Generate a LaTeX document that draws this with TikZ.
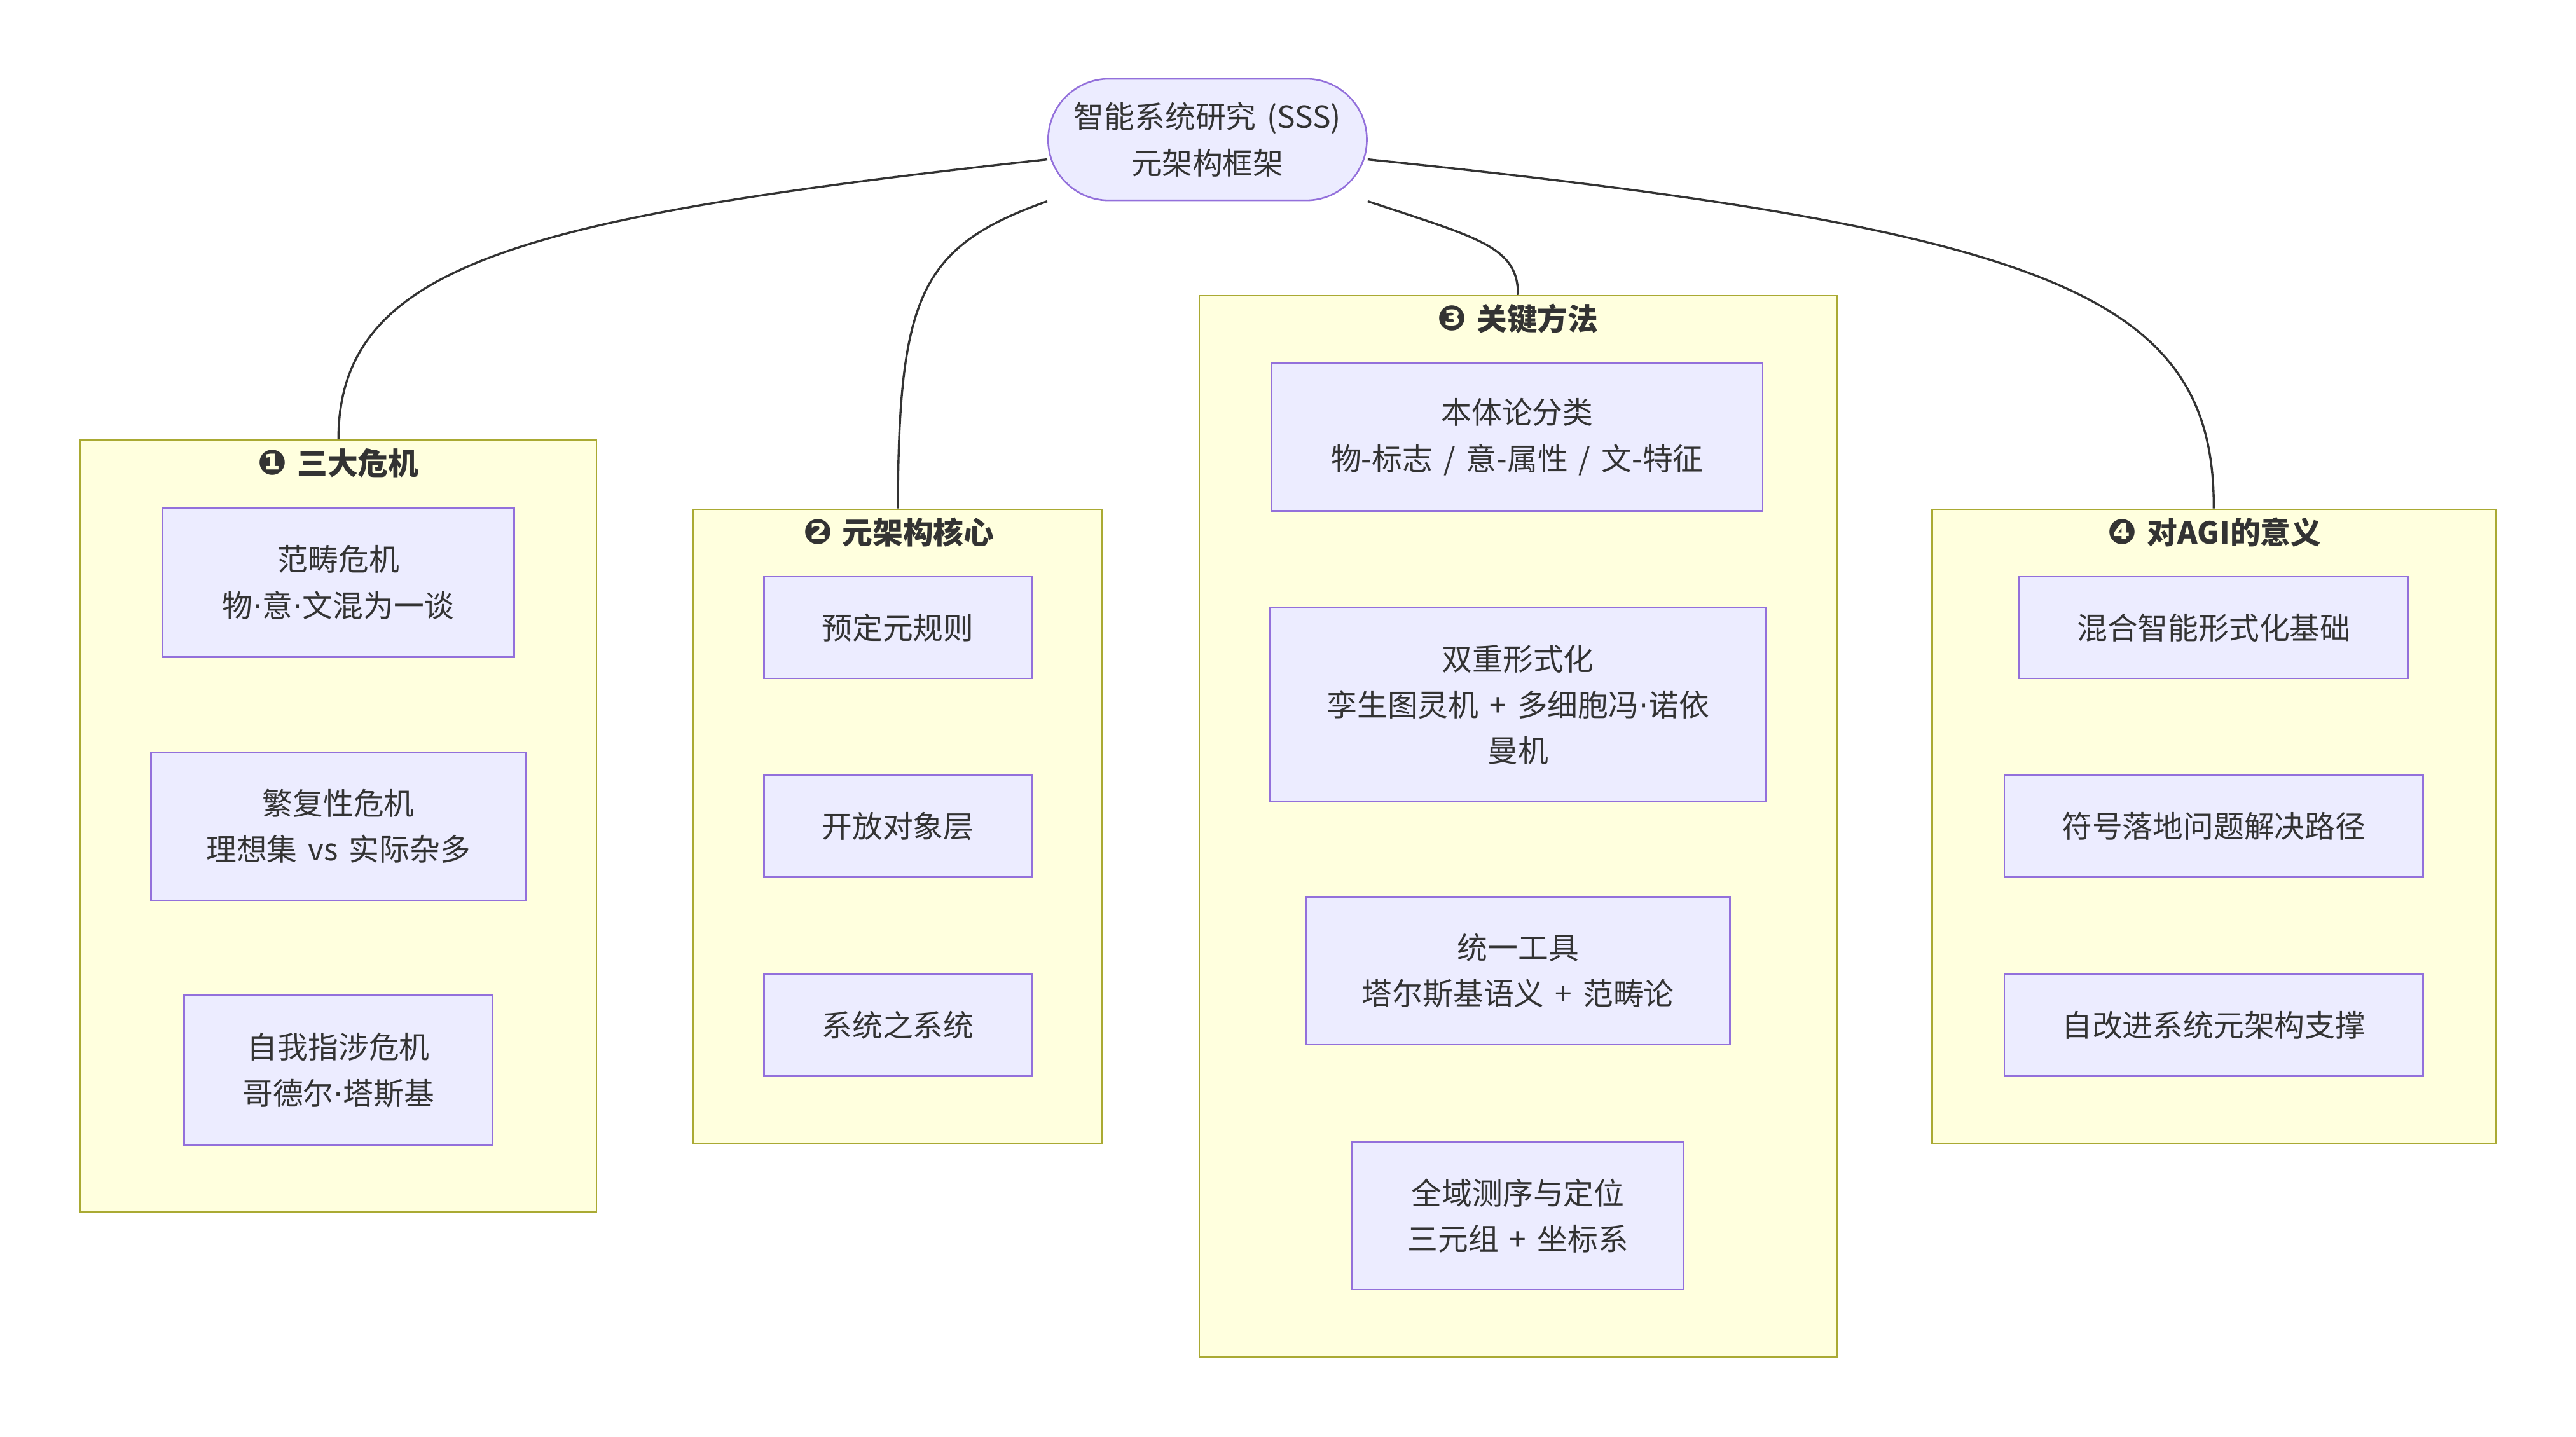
\documentclass[tikz,border=0pt]{standalone}
\usepackage{fontspec}
\setmainfont{Noto Sans CJK SC}
\newfontfamily\dv{DejaVu Sans}
\newcommand\mydot{{\dv ·}}
\newcommand\bul[1]{{\dv\fontsize{21}{22}\selectfont #1}}
\newcommand\widesp{\spaceskip=6.6pt\relax}
\usetikzlibrary{calc}
\definecolor{nodefill}{HTML}{ECECFF}
\definecolor{nodeline}{HTML}{9370DB}
\definecolor{clfill}{HTML}{FFFFDE}
\definecolor{clline}{HTML}{AAAA33}
\definecolor{txt}{HTML}{333333}
\begin{document}
\begin{tikzpicture}[x=1pt,y=-1pt,
 box/.style={draw=nodeline,fill=nodefill,line width=1pt,text=txt,align=center,inner sep=0pt,font=\fontsize{18.5}{28}\selectfont,execute at begin node=\widesp},
 cluster/.style={draw=clline,fill=clfill,line width=1pt,inner sep=0pt},
 ctitle/.style={text=txt,font=\fontsize{18.5}{22}\selectfont\bfseries,inner sep=0pt},
 link/.style={draw=txt,line width=1.3pt}]
\useasboundingbox[fill=white] (0,0) rectangle (1568,874.76);
% clusters
\node[cluster,minimum width=314pt,minimum height=470pt] (c1) at (206,503) {};
\node[cluster,minimum width=249pt,minimum height=386pt] (c2) at (546.5,503) {};
\node[cluster,minimum width=388pt,minimum height=646pt] (c3) at (924,503) {};
\node[cluster,minimum width=343pt,minimum height=386pt] (c4) at (1347.5,503) {};
\node[ctitle] (t1) at (206,282) {\bul{❶}\hspace{6pt}三大危机};
\node[ctitle] (t2) at (547,324) {\bul{❷}\hspace{6pt}元架构核心};
\node[ctitle] (t3) at (924,194) {\bul{❸}\hspace{6pt}关键方法};
\node[ctitle] (t4) at (1348,324) {\bul{❹}\hspace{6pt}对AGI的意义};
% root
\node[box,rounded corners=37pt,minimum width=194pt,minimum height=74pt] (root) at (735,85) {智能系统研究 (SSS)\\元架构框架};
% edges
\draw[link] ($(root.west)+(0,12)$) .. controls (320,132) and (206,160) .. (c1.north);
\draw[link] (root.south west) .. controls (560,150) and (547,180) .. (c2.north);
\draw[link] (root.south east) .. controls (900,145) and (924,150) .. (c3.north);
\draw[link] ($(root.east)+(0,12)$) .. controls (1250,140) and (1348,180) .. (c4.north);
% cluster 1
\node[box,minimum width=214pt,minimum height=91pt] (n1) at (206,354.5) {范畴危机\\物\mydot 意\mydot 文混为一谈};
\node[box,minimum width=228pt,minimum height=90pt] (n2) at (206,503) {繁复性危机\\理想集 vs 实际杂多};
\node[box,minimum width=188pt,minimum height=91pt] (n3) at (206,651.5) {自我指涉危机\\哥德尔\mydot 塔斯基};
% cluster 2
\node[box,minimum width=163pt,minimum height=62pt] (m1) at (546.5,382) {预定元规则};
\node[box,minimum width=163pt,minimum height=62pt] (m2) at (546.5,503) {开放对象层};
\node[box,minimum width=163pt,minimum height=62pt] (m3) at (546.5,624) {系统之系统};
% cluster 3
\node[box,minimum width=299pt,minimum height=90pt] (k1) at (923.5,266) {本体论分类\\物-标志 / 意-属性 / 文-特征};
\node[box,minimum width=302pt,minimum height=118pt] (k2) at (924,429) {双重形式化\\孪生图灵机 + 多细胞冯\mydot 诺依\\曼机};
\node[box,minimum width=258pt,minimum height=90pt] (k3) at (924,591) {统一工具\\塔尔斯基语义 + 范畴论};
\node[box,minimum width=202pt,minimum height=90pt] (k4) at (924,740) {全域测序与定位\\三元组 + 坐标系};
% cluster 4
\node[box,minimum width=237pt,minimum height=62pt] (a1) at (1347.5,382) {混合智能形式化基础};
\node[box,minimum width=255pt,minimum height=62pt] (a2) at (1347.5,503) {符号落地问题解决路径};
\node[box,minimum width=255pt,minimum height=62pt] (a3) at (1347.5,624) {自改进系统元架构支撑};
\end{tikzpicture}
\end{document}
